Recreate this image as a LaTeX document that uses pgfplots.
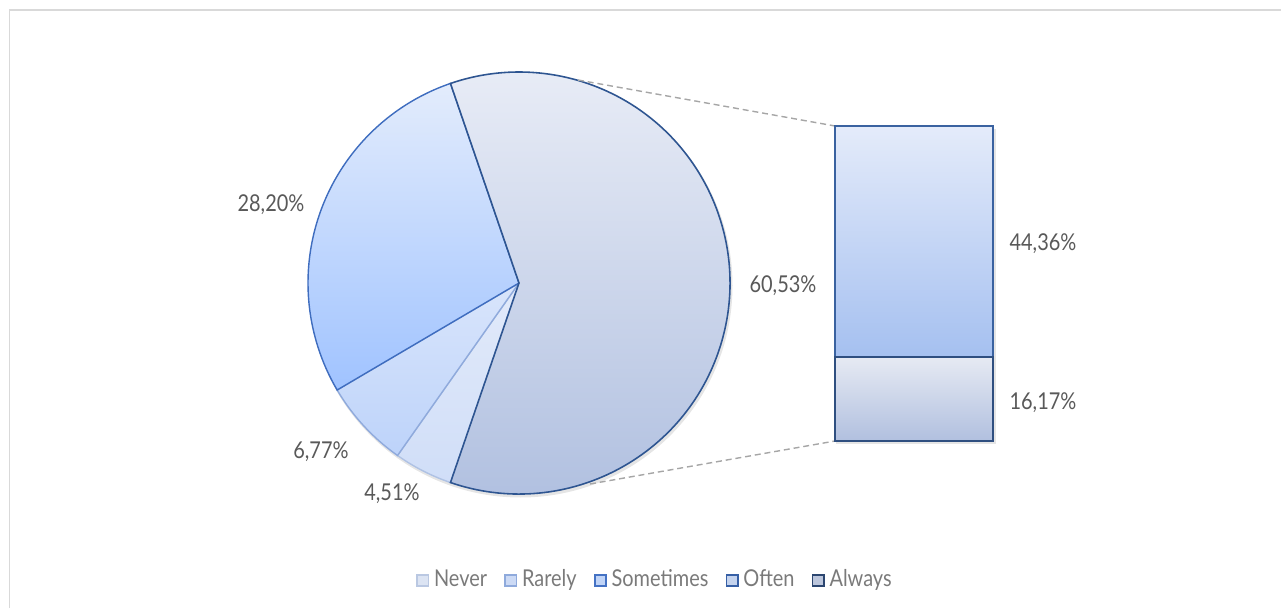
\documentclass[border=0pt]{standalone}
\usepackage{fontspec}
\setmainfont{Lato}[FakeStretch=0.86]
\usepackage{pgfplots}
\pgfplotsset{compat=1.18}
\definecolor{labgray}{HTML}{595959}
\definecolor{leggray}{HTML}{7A7A7A}
\definecolor{framegray}{HTML}{D9D9D9}
\definecolor{dashgray}{HTML}{A6A6A6}
% slices
\definecolor{otT}{HTML}{E8ECF6}\definecolor{otB}{HTML}{AEBEDF}\definecolor{otD}{HTML}{2E5591}
\definecolor{soT}{HTML}{E3ECFC}\definecolor{soB}{HTML}{A0C3FF}\definecolor{soD}{HTML}{3F6DBF}
\definecolor{raT}{HTML}{D9E5FB}\definecolor{raB}{HTML}{BDD3FA}\definecolor{raD}{HTML}{8FAADC}
\definecolor{neT}{HTML}{E2EAFA}\definecolor{neB}{HTML}{D0DEF8}\definecolor{neD}{HTML}{AFC2E4}
\definecolor{ofT}{HTML}{E4EBFA}\definecolor{ofB}{HTML}{A5C0F0}\definecolor{ofD}{HTML}{3A62A0}
\definecolor{alT}{HTML}{E6EAF3}\definecolor{alB}{HTML}{B1C0DF}\definecolor{alD}{HTML}{2F4F80}
% legend
\definecolor{lgNeF}{HTML}{DCE4F3}\definecolor{lgNeD}{HTML}{BAC8E2}
\definecolor{lgRaF}{HTML}{CCDAF5}\definecolor{lgRaD}{HTML}{8FAADC}
\definecolor{lgSoF}{HTML}{C0D4F7}\definecolor{lgSoD}{HTML}{4472C4}
\definecolor{lgOfF}{HTML}{C4D3EE}\definecolor{lgOfD}{HTML}{3760A6}
\definecolor{lgAlF}{HTML}{BCC6DC}\definecolor{lgAlD}{HTML}{2C4670}
\begin{document}
\begin{tikzpicture}
\def\vNever{4.51}
\def\vRarely{6.77}
\def\vSometimes{28.20}
\def\vOften{44.36}
\def\vAlways{16.17}
\pgfmathsetmacro\half{(\vOften+\vAlways)*1.8}
\pgfmathsetmacro\aS{\half+\vSometimes*3.6}
\pgfmathsetmacro\aR{\aS+\vRarely*3.6}
\pgfmathsetmacro\aN{\aR+\vNever*3.6}
\begin{axis}[name=main, at={(0,0)}, anchor=south west, scale only axis,
  width=12.81cm, height=6.08cm, xmin=0, xmax=1281, ymin=0, ymax=608,
  hide axis, clip=false,
  legend style={at={(0.5113,0.045)}, anchor=center, draw=none, fill=none,
    font=\fontsize{6.6}{7}\selectfont\color{leggray}, legend columns=-1,
    nodes={inner xsep=0.6pt, inner ysep=1pt},
    /tikz/every odd column/.append style={column sep=0.025cm},
    /tikz/every even column/.append style={column sep=0.15cm},
    legend cell align=left, inner sep=0pt},
  legend image code/.code={\draw[#1,line width=0.5pt] (0cm,-0.055cm) rectangle (0.115cm,0.06cm);},
]
\addlegendimage{fill=lgNeF,draw=lgNeD}\addlegendentry{Never}
\addlegendimage{fill=lgRaF,draw=lgRaD}\addlegendentry{Rarely}
\addlegendimage{fill=lgSoF,draw=lgSoD}\addlegendentry{Sometimes}
\addlegendimage{fill=lgOfF,draw=lgOfD}\addlegendentry{Often}
\addlegendimage{fill=lgAlF,draw=lgAlD}\addlegendentry{Always}
% frame
\draw[framegray, line width=0.5pt] (axis cs:9.5,0) -- (axis cs:9.5,598) -- (axis cs:1281,598);
% shadows
\fill[black, opacity=0.10] (axis cs:520.5,322.5) circle[radius=2.12cm];
\fill[black, opacity=0.10] (axis cs:836,164.5) rectangle (axis cs:995.5,479);
% pie slices
\path[top color=neT, bottom color=neB, draw=neD, line width=0.4pt]
  (axis cs:519,325) -- ++(\aR:2.11cm) arc[start angle=\aR, end angle=\aN, radius=2.11cm] -- cycle;
\path[top color=raT, bottom color=raB, draw=raD, line width=0.4pt]
  (axis cs:519,325) -- ++(\aS:2.11cm) arc[start angle=\aS, end angle=\aR, radius=2.11cm] -- cycle;
\path[top color=soT, bottom color=soB, draw=soD, line width=0.4pt]
  (axis cs:519,325) -- ++(\half:2.11cm) arc[start angle=\half, end angle=\aS, radius=2.11cm] -- cycle;
\path[top color=otT, bottom color=otB, draw=otD, line width=0.45pt]
  (axis cs:519,325) -- ++(-\half:2.11cm) arc[start angle=-\half, end angle=\half, radius=2.11cm] -- cycle;
% connector lines
\draw[dashgray, line width=0.4pt, dash pattern=on 1.7pt off 1.1pt] (axis cs:578,528) -- (axis cs:835,482);
\draw[dashgray, line width=0.4pt, dash pattern=on 1.7pt off 1.1pt] (axis cs:590,124) -- (axis cs:835,167);
% labels
\begin{scope}[every node/.style={font=\fontsize{6.6}{7}\selectfont, text=labgray, inner sep=0pt}]
\node at (axis cs:783,322) {60,53\%};
\node at (axis cs:271,403) {28,20\%};
\node at (axis cs:321,156) {6,77\%};
\node at (axis cs:392,114) {4,51\%};
\node at (axis cs:1043,364) {44,36\%};
\node at (axis cs:1043,205) {16,17\%};
\end{scope}
\end{axis}
\begin{axis}[at={(8.35cm,1.67cm)}, anchor=south west, scale only axis,
  width=1.58cm, height=3.148cm, xmin=0, xmax=1, ymin=0, ymax=60.53,
  hide axis, clip=false, ybar stacked, bar width=1.58cm]
\addplot[top color=alT, bottom color=alB, draw=alD, line width=0.45pt] coordinates {(0.5,16.17)};
\addplot[top color=ofT, bottom color=ofB, draw=ofD, line width=0.45pt] coordinates {(0.5,44.36)};
\end{axis}
\pgfresetboundingbox
\path (0,0) rectangle (12.81cm,6.08cm);
\end{tikzpicture}
\end{document}
